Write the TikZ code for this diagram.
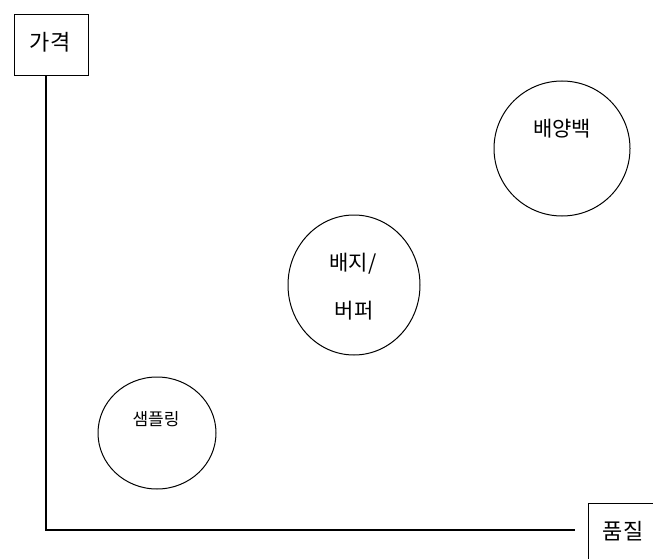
\documentclass[tikz,border=0pt]{standalone}
\usepackage{fontspec}
\setmainfont{Noto Sans CJK KR}
\usetikzlibrary{shapes.geometric}
\begin{document}
\begin{tikzpicture}[x=1pt,y=-1pt,
  axisbox/.style={draw,line width=1.3pt,inner sep=0pt},
  bubble/.style={draw,ellipse,line width=1pt,inner sep=0pt},
  axisline/.style={line width=1.5pt}]
\useasboundingbox (0,0) rectangle (653,559);
\node[axisbox,anchor=north west,minimum width=74pt,minimum height=61pt] (price) at (14,14) {};
\node (pricet) at (50,42) {\fontsize{22}{24}\selectfont 가격};
\node[axisbox,anchor=north west,minimum width=80pt,minimum height=70pt] (quality) at (588,503) {};
\node (qualityt) at (623,531) {\fontsize{22}{24}\selectfont 품질};
\coordinate (corner) at (46,530);
\coordinate (xend) at (575,530);
\draw[axisline] (corner |- price.south) -- (corner) -- (xend);
\node[bubble,minimum width=136pt,minimum height=135pt] (bag) at (562,148.5) {};
\node[font=\fontsize{21}{24}\selectfont] (bagt) at (562,129) {배양백};
\node[bubble,minimum width=132pt,minimum height=140pt] (medium) at (354,285) {};
\node[font=\fontsize{21}{24}\selectfont] (mediumt1) at (353,264) {배지/};
\node[font=\fontsize{21}{24}\selectfont] (mediumt2) at (354,311) {버퍼};
\node[bubble,minimum width=118pt,minimum height=112pt] (sample) at (157,433) {};
\node[font=\fontsize{17}{20}\selectfont] (samplet) at (156,419) {샘플링};
\end{tikzpicture}
\end{document}
